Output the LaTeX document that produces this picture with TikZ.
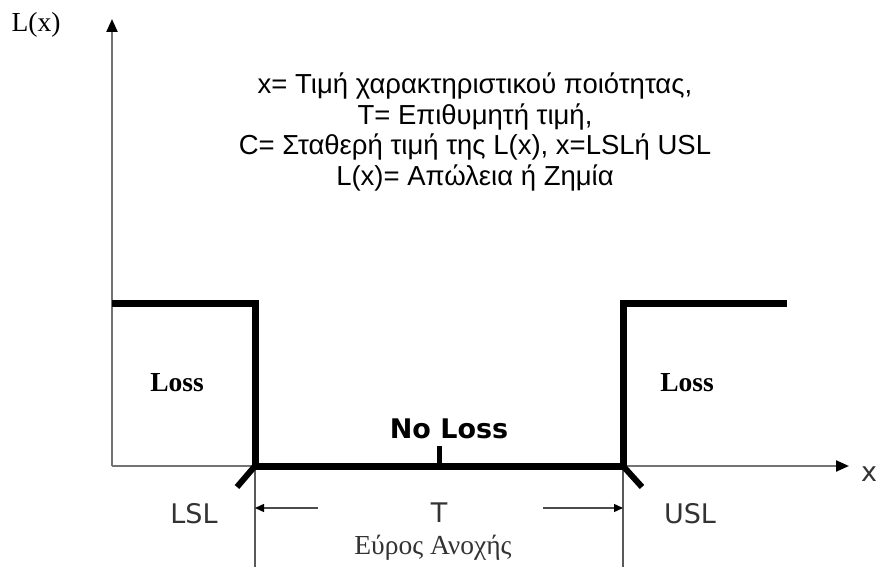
\documentclass[tikz,border=0pt]{standalone}
\usepackage{fontspec}
\setmainfont{Liberation Serif}
\newfontfamily\hdrfont{Liberation Sans}
\newfontfamily\vfont{DejaVu Sans}
\usetikzlibrary{arrows.meta}
\tikzset{
  axisline/.style={draw=black!55, line width=2.2pt, -{Triangle[length=13pt,width=11pt,color=black]}, shorten >=-1pt},
  thickline/.style={draw=black, line width=7pt, line join=miter},
  slant/.style={draw=black, line width=6pt},
  guide/.style={draw=black!65, line width=1.6pt},
  dimline/.style={draw=black!70, line width=1.4pt, -{Triangle[length=9pt,width=8pt,color=black]}},
  serif/.style={font=\fontsize{27.5}{32}\selectfont, inner sep=0pt},
  serifbold/.style={font=\bfseries\fontsize{27.5}{32}\selectfont, inner sep=0pt},
  vlabel/.style={font=\vfont\fontsize{27}{30}\selectfont, text=black!80, inner sep=0pt},
  header/.style={font=\hdrfont\fontsize{27.5}{30.5}\selectfont, align=center, inner sep=0pt}
}
\begin{document}
\begin{tikzpicture}[x=1pt,y=-1pt]
\useasboundingbox (0,0) rectangle (879,567);
% key points
\coordinate (O) at (112,466);
\coordinate (ytop) at (112,20);
\coordinate (xend) at (848,466);
\coordinate (A) at (112,303);
\coordinate (B) at (255,303);
\coordinate (C) at (255,466);
\coordinate (D) at (623,466);
\coordinate (E) at (623,303);
\coordinate (F) at (787,303);
\coordinate (Cs) at (237,487);
\coordinate (Ds) at (642,487);
\coordinate (Cb) at (255,567);
\coordinate (Db) at (623,567);
\coordinate (Lm) at (255,508);
\coordinate (Rm) at (623,508);
\coordinate (Ls) at (318,508);
\coordinate (Rs) at (543,508);
\coordinate (tickb) at (439,466);
\coordinate (tickt) at (439,446);
% axes
\draw[axisline] (O) -- (ytop);
\draw[axisline] (O) -- (xend);
% guides
\draw[guide] (C) -- (Cb);
\draw[guide] (D) -- (Db);
\draw[dimline] (Ls) -- (Lm);
\draw[dimline] (Rs) -- (Rm);
% loss function
\draw[thickline] (A) -- (B) -- (C) -- (D) -- (E) -- (F);
\draw[slant] (C) -- (Cs);
\draw[slant] (D) -- (Ds);
\draw[draw=black, line width=5pt] (tickb) -- (tickt);
% labels
\node[serif] (Lx) at (36,25) {L(x)};
\node[vlabel, anchor=west] (xl) at (861,474) {x};
\node[header] (hdr) at (475,132) {x= Τιμή χαρακτηριστικού ποιότητας,\\T= Επιθυμητή τιμή,\\C= Σταθερή τιμή της L(x), x=LSLή USL\\L(x)= Απώλεια ή Ζημία};
\node[serifbold] (loss1) at (177,383) {Loss};
\node[serifbold] (loss2) at (687,383) {Loss};
\node[font=\vfont\bfseries\fontsize{27}{30}\selectfont, inner sep=0pt] (noloss) at (449,429) {No Loss};
\node[vlabel] (lsl) at (194,514) {LSL};
\node[vlabel] (usl) at (690,514) {USL};
\node[vlabel] (T) at (439,513) {T};
\node[serif, text=black!80] (range) at (433,548) {Εύρος Ανοχής};
\end{tikzpicture}
\end{document}
